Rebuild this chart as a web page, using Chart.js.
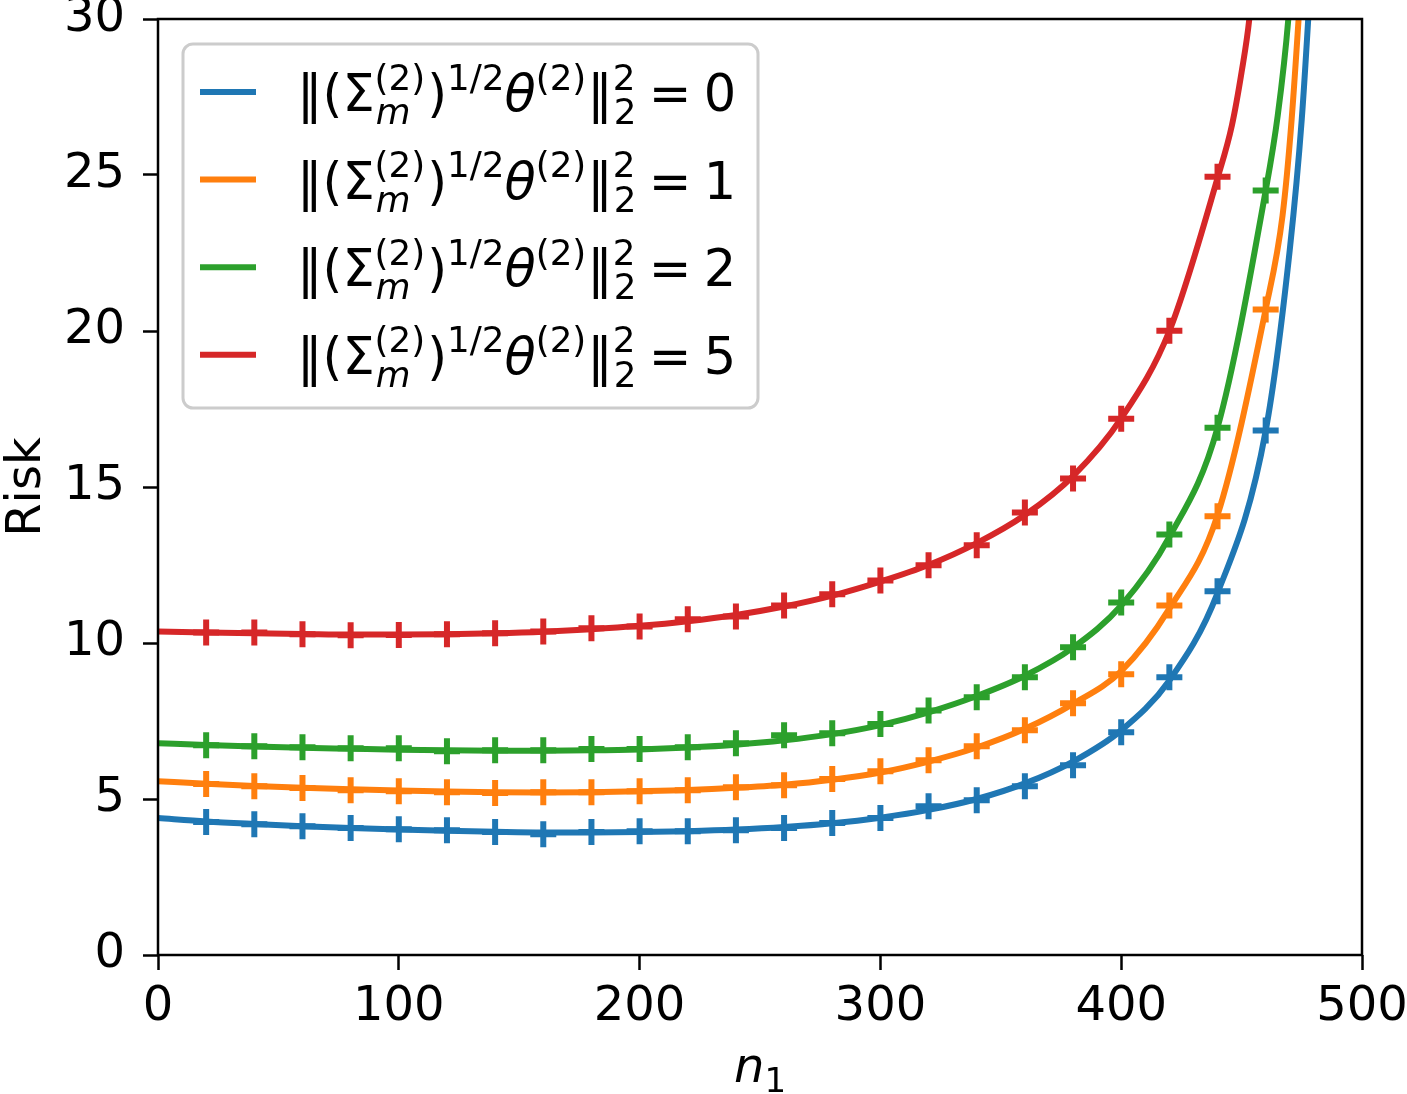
<!DOCTYPE html>
<html><head><meta charset="utf-8">
<script src="https://cdn.jsdelivr.net/npm/chart.js@4/dist/chart.umd.min.js"></script>
<style>html,body{margin:0;padding:0;background:#fff}</style>
</head><body>
<canvas id="c" width="1407" height="1094"></canvas>
<script>
// ---- data ----
const seriesValues = ['0', '1', '2', '5'];
const seriesColors = ['#1f77b4', '#ff7f0e', '#2ca02c', '#d62728'];
const xTickValues = [0, 100, 200, 300, 400, 500];
const yTickValues = [0, 5, 10, 15, 20, 25, 30];

// theory curves (x = 0,20,...)
const curveX = [0,20,40,60,80,100,120,140,160,180,200,220,240,260,280,300,320,340,360,380,400,420,440,460];
const curveBlue   = [4.39,4.28,4.20,4.13,4.07,4.02,3.98,3.95,3.93,3.93,3.94,3.97,4.02,4.10,4.22,4.40,4.65,5.00,5.50,6.20,7.20,8.80,11.6,16.8];
const curveOrange = [5.57,5.49,5.42,5.36,5.31,5.27,5.24,5.22,5.21,5.22,5.25,5.29,5.36,5.46,5.62,5.85,6.20,6.65,7.25,8.05,9.10,11.1,14.1,20.7];
const curveGreen  = [6.79,6.73,6.68,6.64,6.61,6.58,6.56,6.55,6.55,6.56,6.59,6.65,6.74,6.88,7.08,7.37,7.78,8.30,8.95,9.85,11.2,13.4,16.9,24.5];
const curveRed    = [10.37,10.34,10.31,10.29,10.27,10.27,10.28,10.31,10.36,10.44,10.55,10.70,10.90,11.17,11.52,11.97,12.50,13.20,14.10,15.35,17.20,20.00,24.90];
// steep tails near the blow-up
const tailXBlue = [470, 475, 480];        const tailYBlue = [22.6, 26.8, 33];
const tailXOrange = [467, 470.8, 477];    const tailYOrange = [23.7, 26.8, 34];
const tailXGreen = [465, 469.4, 472];     const tailYGreen = [26.9, 30, 33];
const tailXRed = [446, 450, 453.2, 456];  const tailYRed = [26.6, 28.3, 30, 32.5];

// simulated points ('+' markers)
const markerX = [20,40,60,80,100,120,140,160,180,200,220,240,260,280,300,320,340,360,380,400,420,440,460];
const markBlue   = [4.26,4.19,4.13,4.07,4.03,4.00,3.94,3.87,3.94,3.97,3.97,4.00,4.07,4.23,4.39,4.77,4.96,5.41,6.08,7.14,8.90,11.66,16.81];
const markOrange = [5.48,5.41,5.35,5.28,5.25,5.22,5.19,5.22,5.22,5.25,5.28,5.38,5.44,5.64,5.89,6.24,6.69,7.20,8.07,9.00,11.20,14.06,20.69];
const markGreen  = [6.72,6.69,6.66,6.63,6.63,6.53,6.56,6.56,6.60,6.60,6.66,6.79,7.04,7.11,7.40,7.84,8.26,8.90,9.86,11.30,13.48,16.90,24.50];
const markRed    = [10.34,10.34,10.28,10.25,10.26,10.28,10.31,10.37,10.47,10.53,10.76,10.85,11.20,11.56,12.00,12.49,13.13,14.18,15.27,17.19,20.01,24.94];

// ---- build datasets ----
const curves = [curveBlue, curveOrange, curveGreen, curveRed];
const tailsX = [tailXBlue, tailXOrange, tailXGreen, tailXRed];
const tailsY = [tailYBlue, tailYOrange, tailYGreen, tailYRed];
const marks = [markBlue, markOrange, markGreen, markRed];

const datasets = [];
curves.forEach((c, s) => {
  const pts = c.map((y, i) => ({x: curveX[i], y}))
    .concat(tailsX[s].map((x, i) => ({x, y: tailsY[s][i]})));
  datasets.push({
    label: seriesValues[s], data: pts, showLine: true, borderColor: seriesColors[s],
    backgroundColor: seriesColors[s], borderWidth: 6, pointRadius: 0, pointHoverRadius: 0,
    cubicInterpolationMode: 'monotone', clip: 0, order: 20 - s
  });
});
marks.forEach((m, s) => {
  datasets.push({
    label: 'sim' + s, data: m.map((y, i) => ({x: markerX[i], y})), showLine: false,
    pointStyle: 'cross', pointRadius: 13, pointHoverRadius: 13, borderWidth: 6,
    borderColor: seriesColors[s], backgroundColor: seriesColors[s], order: 10 - s
  });
});

const FONT = '"DejaVu Sans", sans-serif';

function drawMath(ctx, x0, y0, F, val) {
  const S = 0.7 * F;
  const R = s => s + 'px ' + FONT;
  const I = s => 'italic ' + s + 'px ' + FONT;
  let cx = x0;
  ctx.textBaseline = 'alphabetic';
  ctx.textAlign = 'left';
  function put(t, font, dy, adv = true) {
    ctx.font = font;
    ctx.fillText(t, cx, y0 + dy);
    const w = ctx.measureText(t).width;
    if (adv) cx += w;
    return w;
  }
  function both(sup, sub, subFont) {
    const start = cx;
    const w1 = put(sup, R(S), -0.42 * F, false);
    cx = start + 0.02 * F;
    const w2 = put(sub, subFont, 0.26 * F, false);
    cx = start + Math.max(w1, w2 + 0.02 * F);
  }
  put('\u2016', R(F), 0);
  put('(', R(F), 0);
  put('\u03A3', R(F), 0);
  both('(2)', 'm', I(S));
  cx += 0.04 * F;
  put(')', R(F), 0);
  put('1/2', R(S), -0.42 * F);
  put('\u03B8', I(F), 0);
  put('(2)', R(S), -0.42 * F);
  cx += 0.02 * F;
  put('\u2016', R(F), 0);
  both('2', '2', R(S));
  cx += 0.24 * F;
  put('=', R(F), 0);
  cx += 0.24 * F;
  put(val, R(F), 0);
}

const decor = {
  id: 'decor',
  afterDatasetsDraw(chart) {
    const {ctx, chartArea: a} = chart;
    ctx.save();
    ctx.strokeStyle = '#000';
    ctx.lineWidth = 2.5;
    ctx.strokeRect(a.left, a.top, a.right - a.left, a.bottom - a.top);
    ctx.restore();
  },
  afterDraw(chart) {
    const {ctx, chartArea: a} = chart;
    ctx.save();
    // legend frame
    const bx = 183, by = 44, bw = 575, bh = 364, r = 10;
    ctx.beginPath();
    ctx.moveTo(bx + r, by);
    ctx.arcTo(bx + bw, by, bx + bw, by + bh, r);
    ctx.arcTo(bx + bw, by + bh, bx, by + bh, r);
    ctx.arcTo(bx, by + bh, bx, by, r);
    ctx.arcTo(bx, by, bx + bw, by, r);
    ctx.closePath();
    ctx.fillStyle = 'rgba(255,255,255,0.8)';
    ctx.fill();
    ctx.strokeStyle = '#cccccc';
    ctx.lineWidth = 3;
    ctx.stroke();
    // entries
    for (let s = 0; s < seriesValues.length; s++) {
      const yc = 92 + s * 87.6;
      ctx.strokeStyle = seriesColors[s];
      ctx.lineWidth = 6;
      ctx.beginPath();
      ctx.moveTo(200, yc);
      ctx.lineTo(256, yc);
      ctx.stroke();
      ctx.fillStyle = '#000';
      drawMath(ctx, 297, yc + 19, 51, seriesValues[s]);
    }
    // x label n_1
    ctx.fillStyle = '#000';
    ctx.textBaseline = 'alphabetic';
    ctx.textAlign = 'left';
    ctx.font = 'italic 48px ' + FONT;
    const cxm = (a.left + a.right) / 2;
    const wn = ctx.measureText('n').width;
    ctx.font = '34px ' + FONT;
    const w1 = ctx.measureText('1').width;
    const start = cxm - (wn + w1) / 2;
    ctx.font = 'italic 48px ' + FONT;
    ctx.fillText('n', start, 1082);
    ctx.font = '34px ' + FONT;
    ctx.fillText('1', start + wn, 1082 + 10);
    // y label
    ctx.translate(40, (a.top + a.bottom) / 2);
    ctx.rotate(-Math.PI / 2);
    ctx.textAlign = 'center';
    ctx.font = '48px ' + FONT;
    ctx.fillText('Risk', 0, 0);
    ctx.restore();
  }
};

const tickFont = {family: FONT, size: 48};
new Chart(document.getElementById('c'), {
  type: 'scatter',
  data: {datasets},
  plugins: [decor],
  options: {
    responsive: false,
    animation: false,
    events: [],
    layout: {padding: {top: 18, right: 45, left: 0, bottom: 0}},
    plugins: {legend: {display: false}, tooltip: {enabled: false}},
    scales: {
      x: {
        type: 'linear', min: 0, max: 500,
        afterBuildTicks: s => { s.ticks = xTickValues.map(v => ({value: v})); },
        ticks: {font: tickFont, color: '#000', padding: 9, maxRotation: 0, autoSkip: false},
        grid: {drawOnChartArea: false, drawTicks: true, tickLength: 15, tickWidth: 2.5, tickColor: '#000'},
        border: {display: false},
        afterFit: s => { s.height = 139; s.paddingLeft = 0; s.paddingRight = 0; }
      },
      y: {
        type: 'linear', min: 0, max: 30,
        afterBuildTicks: s => { s.ticks = yTickValues.map(v => ({value: v})); },
        ticks: {font: tickFont, color: '#000', padding: 18, autoSkip: false},
        grid: {drawOnChartArea: false, drawTicks: true, tickLength: 15, tickWidth: 2.5, tickColor: '#000'},
        border: {display: false},
        afterFit: s => { s.width = 158; s.paddingTop = 0; s.paddingBottom = 0; }
      }
    }
  }
});
</script>
</body></html>
